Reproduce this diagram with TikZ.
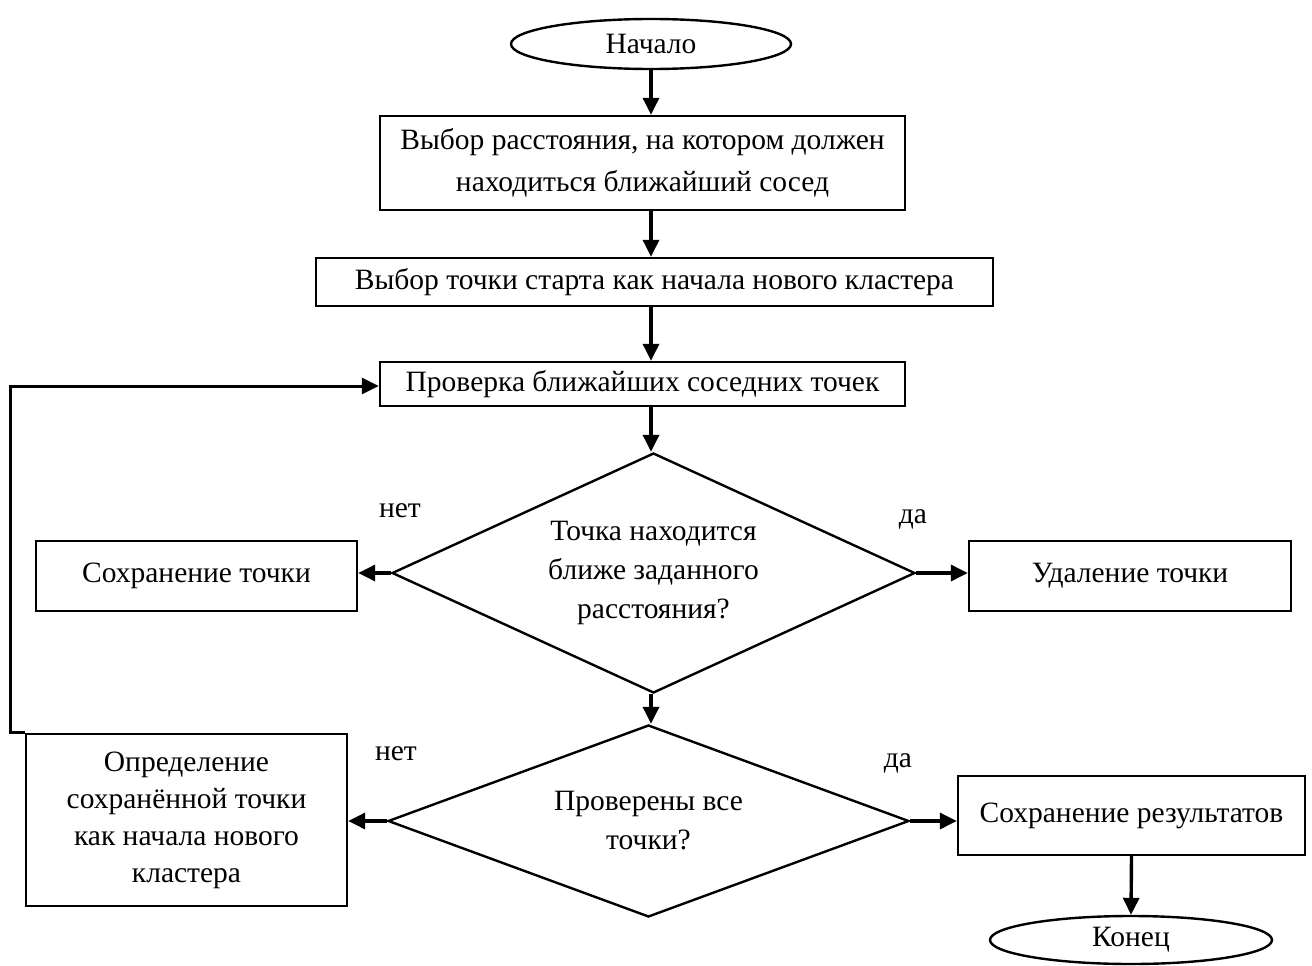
\documentclass[tikz,border=0pt]{standalone}
\usepackage{fontspec}
\setmainfont{Liberation Serif}
\usetikzlibrary{shapes.geometric,arrows.meta}
\begin{document}
\begin{tikzpicture}[x=1pt,y=-1pt,
  font=\fontsize{29.5}{39}\selectfont,
  box/.style={draw,line width=2.4pt,rectangle,inner sep=0pt,align=center},
  oval/.style={draw,line width=2.4pt,ellipse,inner sep=0pt,minimum width=280pt,minimum height=50pt},
  dia/.style={draw,line width=2.4pt,diamond,inner sep=0pt,align=center},
  arr/.style={line width=3.4pt,-{Triangle[length=17pt,width=16pt]}},
  lbl/.style={inner sep=0pt}]
\useasboundingbox (0,0) rectangle (1312,966);
\node[oval] (start) at (651,44) {Начало};
\node[box,minimum width=525pt,minimum height=94pt] (b1) at (642.5,163) {Выбор расстояния, на котором должен\\[3pt]находиться ближайший сосед};
\node[box,minimum width=677pt,minimum height=48pt] (b2) at (654.5,282) {Выбор точки старта как начала нового кластера};
\node[box,minimum width=525pt,minimum height=44pt] (b3) at (642.5,384) {Проверка ближайших соседних точек};
\node[dia,minimum width=523pt,minimum height=240pt,aspect=2.18] (d1) at (653.5,573) {Точка находится\\ближе заданного\\расстояния?};
\node[box,minimum width=321pt,minimum height=70pt] (save) at (196.5,576) {Сохранение точки};
\node[box,minimum width=322pt,minimum height=70pt] (del) at (1130,576) {Удаление точки};
\node[dia,minimum width=521pt,minimum height=192pt,aspect=2.71] (d2) at (648.5,821) {Проверены все\\точки?};
\node[box,minimum width=321pt,minimum height=172pt,font=\fontsize{29.5}{37}\selectfont] (def) at (186.5,820) {Определение\\сохранённой точки\\как начала нового\\кластера};
\node[box,minimum width=347pt,minimum height=79pt] (res) at (1131.5,815.5) {Сохранение результатов};
\node[oval,minimum width=282pt,minimum height=48pt] (end) at (1131,940) {Конец};
\node[lbl] (n1) at (400,511) {нет};
\node[lbl] (y1) at (913,519) {да};
\node[lbl] (n2) at (396,754) {нет};
\node[lbl] (y2) at (898,763) {да};
\draw[arr] (start.south) -- (b1.north -| start.south);
\draw[arr] (b1.south -| start.south) -- (b2.north -| start.south);
\draw[arr] (b2.south -| start.south) -- (b3.north -| start.south);
\draw[arr] (b3.south -| start.south) -- (d1.north -| start.south);
\draw[arr] (d1.west) -- (save.east |- d1.west);
\draw[arr] (d1.east) -- (del.west |- d1.east);
\draw[arr] (d1.south -| start.south) -- (d2.north -| start.south);
\draw[arr] (d2.west) -- (def.east |- d2.west);
\draw[arr] (d2.east) -- (res.west |- d2.east);
\draw[arr] (res.south) -- (end.north);
\coordinate (lp) at (10,386);
\draw[arr,line width=3pt] (def.north west) -- (lp |- def.north west) -- (lp) -- (b3.west |- lp);
\end{tikzpicture}
\end{document}
